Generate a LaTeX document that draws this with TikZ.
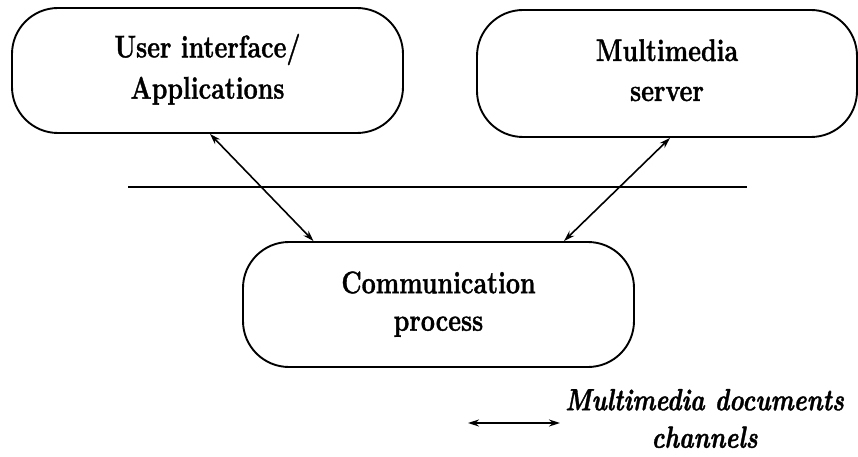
\documentclass[tikz,border=0pt]{standalone}
\usepackage{fontspec}
\setmainfont{Latin Modern Roman}[
  BoldFeatures={FakeBold=1.3},
  BoldItalicFeatures={FakeBold=1.3}]
\usepackage{graphicx}
\usetikzlibrary{arrows.meta,calc}

\tikzset{
  procbox/.style={draw, line width=1.9pt, rounded corners=46pt,
    inner sep=0pt, minimum width=391pt, minimum height=125pt,
    font=\bfseries\fontsize{25}{30}\selectfont},
  chan/.style={line width=1.6pt, {Stealth[length=11pt,width=7pt]}-{Stealth[length=11pt,width=7pt]}},
  divider/.style={line width=2.2pt},
  legendtext/.style={inner sep=0pt, anchor=west,
    font=\bfseries\itshape\fontsize{24.5}{30}\selectfont}
}
% vertically stretched two-line label
\newcommand{\twoline}[3]{\scalebox{1}[1.25]{\begin{tabular}{@{}c@{}}#1\\[#3]#2\end{tabular}}}

\begin{document}
\begin{tikzpicture}[x=1pt,y=-1pt]
  \useasboundingbox (0,0) rectangle (858,457);

  % the three processes
  \node[procbox] (ui)   at (207.5,70.5)  {\twoline{User interface/}{Applications}{3pt}};
  \node[procbox, minimum width=380pt, minimum height=127pt] (srv) at (667,73.5)
       {\twoline{Multimedia}{server}{2pt}};
  \node[procbox] (comm) at (438.5,304.5) {\twoline{Communication}{process}{0pt}};

  % separating line
  \coordinate (dl) at (128,187);
  \coordinate (dr) at (747,187);
  \draw[divider] (dl) -- (dr);

  % document channels
  \draw[chan] ($(ui.south)+(2.5,0)$) -- ($(comm.north)+(-125,0)$);
  \draw[chan] ($(srv.south)+(3,0)$) -- ($(comm.north)+(125.5,0)$);

  % legend
  \node[legendtext] (leg) at (565,421.5)
       {\twoline{Multimedia documents}{channels}{0pt}};
  \coordinate (ll) at (468,423);
  \coordinate (lr) at (560,423);
  \draw[chan] (ll) -- (lr);
\end{tikzpicture}
\end{document}
